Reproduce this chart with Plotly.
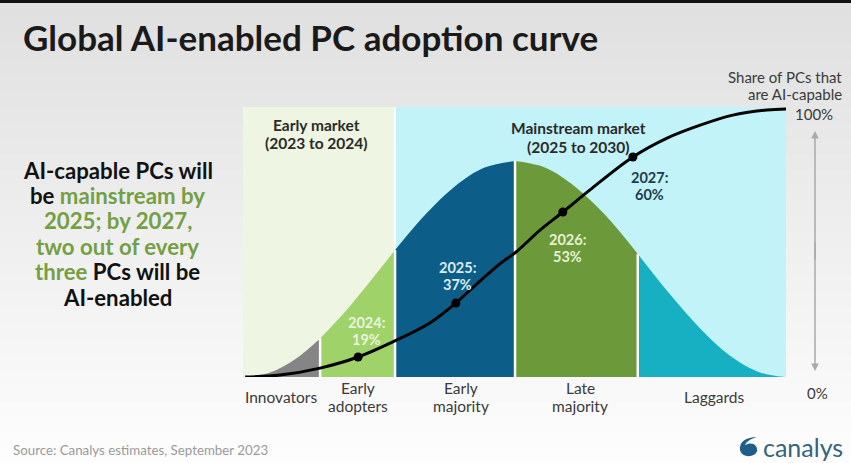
import plotly.graph_objects as go

# ---------------- data ----------------
# Bell curve (diffusion of innovation), position along the adoption timeline (0-100) vs height
bell_x = [0.4, 5, 9.6, 14.2, 18.8, 23.4, 28, 33.5, 39, 44.5, 50.1, 55.6, 61.1, 66.7, 72.7, 78.6, 84.2, 89.7, 95.2, 99.8]
bell_h = [0, 1.7, 6.6, 14.3, 24.2, 35.4, 47, 60, 70.6, 77.6, 80, 77.6, 70.6, 60, 45.6, 30.7, 18, 7.9, 1.7, 0]

segment_names = [["Innovators"], ["Early", "adopters"], ["Early", "majority"], ["Late", "majority"], ["Laggards"]]
segment_bounds = [0, 3, 6, 10, 14, 19]          # indices into bell_x
segment_colors = ["#858585", "#a0d26a", "#0c5d88", "#6c9a3a", "#17b0c2"]
segment_label_x = [7, 21.2, 40.2, 62.1, 86.7]

# Market phases
phase_names = [["Early market", "(2023 to 2024)"], ["Mainstream market", "(2025 to 2030)"]]
phase_x0 = [0, 28]
phase_x1 = [28, 100]
phase_colors = ["#eef5e2", "#c2f3f8"]
phase_label_x = [13.5, 61.8]

# S-shaped adoption curve (share of PCs that are AI-capable)
adopt_x = [0.4, 6.8, 14.2, 21.2, 27.6, 34.4, 39.2, 42.4, 47.3, 50.3, 54.7, 58.9, 63.9, 71.8, 78.1, 84.2, 90.2, 96.5, 100]
adopt_y = [0, 0.7, 3.3, 7.4, 13.0, 20.0, 27.4, 33.3, 41.9, 46.3, 54.4, 61.1, 69.3, 81.5, 88.5, 93.3, 97.0, 98.9, 99.3]

# Milestones
mile_x = [21.2, 39.2, 58.9, 71.8]
mile_y = [7.4, 27.4, 61.1, 81.5]
mile_year = [2024, 2025, 2026, 2027]
mile_share = [19, 37, 53, 60]
mile_colors = ["#eaf4dc", "#dcecf4", "#e8f1d4", "#1e3c4c"]
mile_shift = [(8, 26), (2, 27), (5, -36), (17, -29)]

FONT = "Lato"
W, H = 851, 463
L, R, T, B = 243, 786, 107, 377


def X(px):
    return (px - L) / (R - L)


def Y(py):
    return (B - py) / (B - T)


fig = go.Figure()

# phase backgrounds
for x0, x1, c in zip(phase_x0, phase_x1, phase_colors):
    fig.add_trace(go.Scatter(x=[x0, x1, x1, x0, x0], y=[0, 0, 100, 100, 0], fill="toself",
                             fillcolor=c, line=dict(width=0), mode="lines", hoverinfo="skip"))
fig.add_trace(go.Scatter(x=[phase_x1[0], phase_x1[0]], y=[0, 100], mode="lines",
                         line=dict(color="white", width=1.5), hoverinfo="skip"))

# bell segments
for i in range(5):
    a, b = segment_bounds[i], segment_bounds[i + 1]
    fig.add_trace(go.Scatter(x=bell_x[a:b + 1], y=bell_h[a:b + 1], mode="lines",
                             line=dict(width=0, shape="spline", color=segment_colors[i]),
                             fill="tozeroy", fillcolor=segment_colors[i], hoverinfo="skip"))
# separators
for idx in segment_bounds[1:-1]:
    fig.add_trace(go.Scatter(x=[bell_x[idx], bell_x[idx]], y=[0, bell_h[idx]], mode="lines",
                             line=dict(color="white", width=2.5), hoverinfo="skip"))

# adoption curve
fig.add_trace(go.Scatter(x=adopt_x, y=adopt_y, mode="lines",
                         line=dict(color="black", width=3, shape="spline"), hoverinfo="skip"))
fig.add_trace(go.Scatter(x=mile_x, y=mile_y, mode="markers",
                         marker=dict(color="black", size=9), hoverinfo="skip"))

ann = []


def lines_at(lines, x, y, xref, yref, spacing, size, color, dx=0, dy=0, bold=False, xanchor="center"):
    n = len(lines)
    for k, s in enumerate(lines):
        off = -(k - (n - 1) / 2) * spacing
        txt = "<b>%s</b>" % s if bold else s
        ann.append(dict(x=x, y=y, xref=xref, yref=yref, text=txt, showarrow=False,
                        xanchor=xanchor, yanchor="middle", xshift=dx, yshift=dy + off,
                        font=dict(family=FONT, size=size, color=color)))


for x, y, yr, sh, c, (dx, dy) in zip(mile_x, mile_y, mile_year, mile_share, mile_colors, mile_shift):
    lines_at([f"{yr}:", f"{sh}%"], x, y, "x", "y", 17.5, 14.5, c, dx, dy, bold=True)

lines_at(phase_names[0], phase_label_x[0], Y(134), "x", "paper", 18.5, 15.5, "#2a2a2a", bold=True)
lines_at(phase_names[1], phase_label_x[1], Y(137.5), "x", "paper", 19, 15.5, "#2a2a2a", bold=True)

for name, x in zip(segment_names, segment_label_x):
    lines_at(name, x, Y(397), "x", "paper", 18.5, 15.5, "#3a3a3a")

# title
ann.append(dict(x=X(21), y=Y(37), xref="paper", yref="paper", xanchor="left", yanchor="middle",
                text="<b>Global AI-enabled PC adoption curve</b>", showarrow=False,
                font=dict(family=FONT, size=35, color="#1a1a1a")))
# left message
g = "#74a044"
msg = ["AI-capable PCs will",
       "be <span style='color:%s'>mainstream by</span>" % g,
       "<span style='color:%s'>2025; by 2027,</span>" % g,
       "<span style='color:%s'>two out of every</span>" % g,
       "<span style='color:%s'>three</span> PCs will be" % g,
       "AI-enabled"]
lines_at(msg, X(117.5), Y(233.5), "paper", "paper", 25.4, 22.2, "#111111", bold=True)
# right axis labels
lines_at(["Share of PCs that", "are AI-capable"], X(844), Y(85.5), "paper", "paper", 17.5, 15, "#3a3a3a",
         xanchor="right")
lines_at(["100%"], X(814), Y(114), "paper", "paper", 17, 15, "#3a3a3a")
lines_at(["0%"], X(817), Y(393), "paper", "paper", 17, 15, "#3a3a3a")
# arrows (overlapping so the shaft is continuous)
ann.append(dict(x=X(815), y=Y(131), xref="paper", yref="paper", ax=0, ay=130, axref="pixel",
                ayref="pixel", text="", showarrow=True, arrowhead=2, arrowsize=1, arrowwidth=1.5,
                arrowcolor="#a9a9a9"))
ann.append(dict(x=X(815), y=Y(371), xref="paper", yref="paper", ax=0, ay=-130, axref="pixel",
                ayref="pixel", text="", showarrow=True, arrowhead=2, arrowsize=1, arrowwidth=1.5,
                arrowcolor="#a9a9a9"))
# source
lines_at(["Source: Canalys estimates, September 2023"], X(11), Y(450), "paper", "paper", 16, 13.3,
         "#9a9a9a", xanchor="left")
# logo text
lines_at(["canalys"], X(845), Y(447), "paper", "paper", 30, 25, "#35647c", xanchor="right")

shapes = []
# background gradient
n = 30
c0, c1 = (224, 224, 224), (253, 253, 253)
for i in range(n):
    t = i / (n - 1)
    col = tuple(round(c0[k] + (c1[k] - c0[k]) * t) for k in range(3))
    y0 = 463 * i / n
    y1 = 463 * (i + 1) / n
    shapes.append(dict(type="rect", xref="paper", yref="paper", x0=X(0), x1=X(W), y0=Y(y1) - 0.002,
                       y1=Y(y0), fillcolor="rgb(%d,%d,%d)" % col, line=dict(width=0), layer="below"))
shapes.append(dict(type="rect", xref="paper", yref="paper", x0=X(0), x1=X(W), y0=Y(3), y1=Y(0),
                   fillcolor="#111111", line=dict(width=0), layer="below"))


# logo icon
def pt(px, py):
    return "%.5f,%.5f" % (X(px), Y(py))


path = ("M " + pt(740, 450) + " C " + pt(739, 442) + " " + pt(746, 437) + " " + pt(757, 437)
        + " C " + pt(750, 439) + " " + pt(746, 442) + " " + pt(745, 445)
        + " C " + pt(752, 441) + " " + pt(758, 445) + " " + pt(757, 451)
        + " C " + pt(756, 457) + " " + pt(742, 459) + " " + pt(740, 450) + " Z")
shapes.append(dict(type="path", xref="paper", yref="paper", path=path, fillcolor="#1e5f8a",
                   line=dict(width=0), layer="above"))

fig.update_layout(
    width=W, height=H, margin=dict(l=L, r=W - R, t=T, b=H - B),
    paper_bgcolor="#f0f0f0", plot_bgcolor="rgba(0,0,0,0)",
    showlegend=False,
    xaxis=dict(range=[0, 100], visible=False, fixedrange=True),
    yaxis=dict(range=[0, 100], visible=False, fixedrange=True),
    annotations=ann, shapes=shapes,
)
fig.write_html("out.html", config=dict(displayModeBar=False))
